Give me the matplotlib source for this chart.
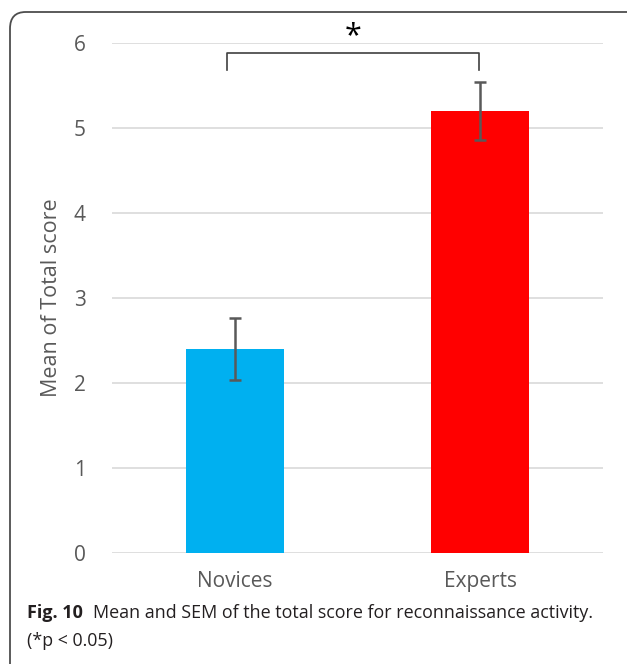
import matplotlib
matplotlib.use("Agg")
import matplotlib.pyplot as plt
from matplotlib.patches import FancyBboxPatch

# Dados do gráfico
grupos = ["Novices", "Experts"]
medias = [2.40, 5.20]
sem = [0.36, 0.34]
cores = ["#00B0F0", "#FF0000"]
ticks_y = [0, 1, 2, 3, 4, 5, 6]

plt.rcParams["font.family"] = ["Open Sans", "DejaVu Sans"]

fig = plt.figure(figsize=(6.27, 6.64), dpi=100)
ax = fig.add_axes([112 / 627, 1 - 553 / 664, 491 / 627, 510 / 664])

# Barras com erro padrão
x = list(range(len(grupos)))
ax.bar(x, medias, width=0.4, color=cores, zorder=3)
ax.errorbar(x, medias, yerr=sem, fmt="none", ecolor="#595959",
            elinewidth=1.8, capsize=4.5, capthick=1.8, zorder=4)

ax.set_xlim(-0.5, 1.5)
ax.set_ylim(0, 6)
ax.set_yticks(ticks_y)
ax.set_xticks(x)
ax.set_xticklabels(grupos)
ax.yaxis.grid(True, color="#d9d9d9", linewidth=1.2, zorder=0)
ax.set_axisbelow(True)
for s in ax.spines.values():
    s.set_visible(False)
ax.tick_params(length=0, labelsize=15, labelcolor="#595959")
ax.tick_params(axis="y", pad=19)
ax.tick_params(axis="x", pad=13)
ax.set_ylabel("Mean of Total score", fontsize=15.5, color="#595959", labelpad=8)

# Colchete de significância
bx0, bx1 = -0.03, 0.995
ax.plot([bx0, bx0, bx1, bx1], [5.68, 5.88, 5.88, 5.68], color="#404040",
        linewidth=1.2, clip_on=False, zorder=5)
ax.text((bx0 + bx1) / 2, 5.9, "*", ha="center", va="bottom",
        fontsize=22, color="black", clip_on=False)

# Moldura arredondada (cortada à direita e embaixo)
moldura = FancyBboxPatch((10 / 627, -0.2), 1.2, 1 - 12 / 664 + 0.2,
                         boxstyle="round,pad=0,rounding_size=0.025",
                         transform=fig.transFigure, fill=False,
                         edgecolor="#4d4d4d", linewidth=1.3, clip_on=False)
fig.patches.append(moldura)

# Legenda da figura
y1 = 1 - 613 / 664
t = fig.text(27 / 627, y1, "Fig. 10", fontsize=13, fontweight="bold",
             color="#231f20", va="center")
fig.canvas.draw()
larg = t.get_window_extent().width / 627
fig.text(27 / 627 + larg + 10 / 627, y1,
         "Mean and SEM of the total score for reconnaissance activity.",
         fontsize=12.9, color="#231f20", va="center")
fig.text(27 / 627, 1 - 641 / 664, "(*p < 0.05)", fontsize=12.9,
         color="#231f20", va="center")

fig.savefig("out.png", dpi=100)
